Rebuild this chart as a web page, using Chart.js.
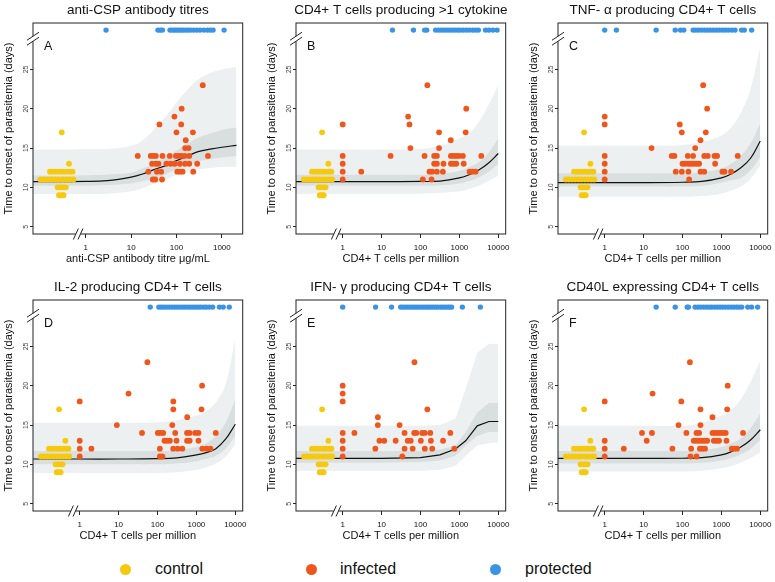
<!DOCTYPE html>
<html>
<head>
<meta charset="utf-8">
<script src="https://cdn.jsdelivr.net/npm/chart.js@4.4.1/dist/chart.umd.min.js"></script>
<style>
  html, body { margin: 0; padding: 0; background: #fff; overflow: hidden; }
  body { width: 775px; height: 582px; position: relative; font-family: "Liberation Sans", Arial, sans-serif; }
  canvas { position: absolute; }
  .key { position: absolute; top: 558px; font-size: 16px; line-height: 22px; color: #111; }
  .dot { position: absolute; top: 564px; width: 11px; height: 11px; border-radius: 50%; }
</style>
</head>
<body>
<canvas id="pA" width="256" height="274"></canvas>
<canvas id="pB" width="256" height="274"></canvas>
<canvas id="pC" width="256" height="274"></canvas>
<canvas id="pD" width="256" height="274"></canvas>
<canvas id="pE" width="256" height="274"></canvas>
<canvas id="pF" width="256" height="274"></canvas>

<div class="dot" style="left:120px;background:#f7c90c"></div><div class="key" style="left:155px">control</div>
<div class="dot" style="left:306px;background:#f0561c"></div><div class="key" style="left:340px">infected</div>
<div class="dot" style="left:490px;background:#3a94e6"></div><div class="key" style="left:525px">protected</div>

<script>
// ---- data ----
var yTicks = [5, 10, 15, 20, 25];
var xTicksCSP = [1, 10, 100, 1000];
var xTicksCD4 = [1, 10, 100, 1000, 10000];

// controls (no measurement, plotted left of the axis break)
var ctrlX = [0.100, 0.120, 0.145, 0.174, 0.209, 0.251, 0.309, 0.372, 0.447, 0.537,
             0.162, 0.191, 0.224, 0.269, 0.316, 0.372, 0.447, 0.513,
             0.240, 0.275, 0.316, 0.363,
             0.257, 0.295, 0.324,
             0.427,
             0.295];
var ctrlY = [11, 11, 11, 11, 11, 11, 11, 11, 11, 11,
             12, 12, 12, 12, 12, 12, 12, 12,
             10, 10, 10, 10,
             9, 9, 9,
             13,
             17];

// protected volunteers (never parasitemic, drawn in the top strip)
var protectedDay = 30;
var protA = [2.8, 39, 44, 49, 72, 80, 90, 100, 112, 125, 140, 160, 180, 205, 240, 280, 330, 400, 480, 560, 640, 1120];
var protB = [19, 66, 128, 145, 245, 290, 340, 400, 470, 550, 650, 760, 900, 1050, 1250, 1500, 1800, 2200, 2600, 3070, 4700, 5750, 7250, 9300];
var protC = [1, 2, 21, 65, 89, 108, 188, 220, 260, 310, 370, 440, 520, 620, 740, 880, 1050, 1250, 1500, 1850, 2240, 3310, 3880, 6000];
var protD = [65, 108, 125, 145, 170, 200, 235, 275, 320, 375, 440, 510, 600, 700, 820, 960, 1120, 1300, 1550, 1800, 2150, 2620, 3900, 4900, 7000];
var protE = [1, 7, 18, 31, 35, 40, 46, 53, 61, 70, 80, 92, 106, 122, 140, 160, 185, 212, 245, 280, 325, 375, 430, 500, 560, 630, 1190, 3460];
var protF = [21, 65, 132, 142, 211, 250, 295, 350, 410, 480, 560, 660, 780, 920, 1080, 1270, 1500, 1770, 2080, 2450, 2850, 3330, 4770, 6000, 8560];

// infected volunteers
var infA_x = [380, 130, 90, 42, 127, 100, 230, 160, 155, 185,
  14, 27, 31, 35, 49, 71, 97, 111, 127, 151, 191, 494,
  29, 35, 40, 60, 74, 91, 119, 155, 191, 286,
  24, 37, 46, 104, 119, 136, 234,
  30, 34, 48];
var infA_y = [23, 20, 19, 18, 18, 17, 17, 16, 15, 15,
  14, 14, 14, 14, 14, 14, 14, 14, 14, 14, 14, 14,
  13, 13, 13, 13, 13, 13, 13, 13, 13, 13,
  12, 12, 12, 12, 12, 12, 12,
  11, 11, 11];

var infB_x = [150, 1500, 48, 1, 52, 300, 1450, 600, 55, 300,
  1, 17, 127, 225, 264, 605, 710, 830, 975, 1230, 3650,
  1, 225, 264, 390, 605, 710, 830, 1290,
  1, 3, 170, 200, 264, 376, 1830, 2140, 2610,
  1, 115, 192];
var infB_y = [23, 20, 19, 18, 18, 17, 17, 16, 15, 15,
  14, 14, 14, 14, 14, 14, 14, 14, 14, 14, 14,
  13, 13, 13, 13, 13, 13, 13, 13,
  12, 12, 12, 12, 12, 12, 12, 12, 12,
  11, 11, 11];

var infC_x = [340, 430, 1, 1, 85, 96, 397, 290, 16, 212,
  1, 53, 62, 137, 187, 363, 445, 665, 775, 2630,
  1, 100, 117, 142, 166, 195, 229, 268, 690,
  1, 67, 96, 142, 290, 363, 1060, 1200, 1770,
  1, 148];
var infC_y = [23, 20, 19, 18, 18, 17, 17, 16, 15, 15,
  14, 14, 14, 14, 14, 14, 14, 14, 14, 14,
  13, 13, 13, 13, 13, 13, 13, 13, 13,
  12, 12, 12, 12, 12, 12, 12, 12, 12,
  11, 11];

var infD_x = [55, 1400, 18, 1, 255, 255, 1350, 580, 9, 240,
  40, 102, 120, 140, 285, 575, 670, 930, 1130, 3150,
  1, 151, 177, 208, 308, 575, 670, 1130,
  1, 2, 115, 253, 330, 435, 1420, 1810, 2290,
  1, 115, 134];
var infD_y = [23, 20, 19, 18, 18, 17, 17, 16, 15, 15,
  14, 14, 14, 14, 14, 14, 14, 14, 14, 14,
  13, 13, 13, 13, 13, 13, 13, 13,
  12, 12, 12, 12, 12, 12, 12, 12, 12,
  11, 11, 11];

var infE_x = [70, 1, 1, 1, 150, 8, 8, 29,
  1, 2, 39, 69, 78, 110, 129, 178, 585,
  1, 8.8, 11.7, 23, 47, 56, 102, 185, 380,
  1, 6.9, 39, 63, 129, 200, 740,
  1, 34];
var infE_y = [23, 20, 19, 18, 17, 16, 15, 15,
  14, 14, 14, 14, 14, 14, 14, 14, 14,
  13, 13, 13, 13, 13, 13, 13, 13, 13,
  12, 12, 12, 12, 12, 12, 12,
  11, 11];

var infF_x = [155, 1450, 17, 1, 93, 290, 1410, 590, 79, 290,
  9.1, 16.4, 126, 229, 268, 590, 690, 810, 940, 1100, 1290, 3600,
  1, 12, 195, 229, 268, 315, 365, 430, 640, 745, 870, 1350,
  1, 3.1, 55, 167, 280, 325, 380, 1850, 2150, 2520,
  1, 160, 229];
var infF_y = [23, 20, 19, 18, 18, 17, 17, 16, 15, 15,
  14, 14, 14, 14, 14, 14, 14, 14, 14, 14, 14, 14,
  13, 13, 13, 13, 13, 13, 13, 13, 13, 13, 13, 13,
  12, 12, 12, 12, 12, 12, 12, 12, 12, 12,
  11, 11, 11];

// fitted model: mean line, inner and outer intervals
var bandX_A = [0.0687, 1, 3, 10, 18, 30, 60, 100, 180, 300, 600, 1000, 2100];
var fitA    = [10.72, 10.75, 10.85, 11.3, 11.7, 12.2, 12.8, 13.4, 14.0, 14.55, 14.9, 15.1, 15.35];
var outHiA  = [14.8, 14.85, 14.9, 15.3, 16.0, 17.2, 19.1, 20.8, 22.5, 23.7, 24.6, 25.0, 25.3];
var outLoA  = [9.15, 9.15, 9.2, 9.5, 9.9, 10.4, 11.0, 11.6, 12.0, 12.3, 12.5, 12.6, 12.6];
var inHiA   = [11.5, 11.55, 11.65, 11.9, 12.4, 13.0, 13.9, 14.7, 15.6, 16.3, 16.9, 17.3, 17.6];
var inLoA   = [10.2, 10.2, 10.3, 10.5, 10.8, 11.1, 11.7, 12.3, 12.8, 13.3, 13.6, 13.8, 14.0];

var bandX_T = [0.063, 1, 10, 100, 316, 1000, 1780, 3160, 5620, 10000];
var fitB   = [10.72, 10.72, 10.72, 10.75, 10.8, 11.2, 11.6, 12.2, 13.1, 14.3];
var outHiB = [14.8, 14.8, 14.8, 14.9, 15.3, 16.2, 16.9, 18.3, 20.5, 23.0];
var outLoB = [9.2, 9.2, 9.2, 9.2, 9.3, 9.5, 9.8, 10.2, 10.8, 11.5];
var inHiB  = [11.6, 11.6, 11.6, 11.6, 11.7, 12.1, 12.6, 13.2, 14.4, 16.2];
var inLoB  = [10.2, 10.2, 10.2, 10.2, 10.25, 10.5, 10.8, 11.3, 12.0, 13.0];

var fitC   = [10.6, 10.6, 10.6, 10.65, 10.75, 11.2, 11.7, 12.5, 13.7, 15.9];
var outHiC = [15.3, 15.3, 15.3, 15.4, 15.8, 16.6, 17.6, 19.5, 22.5, 28.0];
var outLoC = [8.8, 8.8, 8.8, 8.8, 8.9, 9.2, 9.6, 10.1, 11.1, 12.8];
var inHiC  = [11.8, 11.8, 11.8, 11.8, 11.9, 12.4, 13.0, 14.0, 15.6, 18.2];
var inLoC  = [10.1, 10.1, 10.1, 10.1, 10.2, 10.6, 10.9, 11.2, 12.2, 13.9];

var fitD   = [10.68, 10.68, 10.68, 10.72, 10.82, 11.2, 11.5, 12.0, 13.2, 15.1];
var outHiD = [15.3, 15.3, 15.3, 15.35, 15.6, 16.2, 16.8, 17.9, 20.2, 25.9];
var outLoD = [8.9, 8.9, 8.9, 8.9, 9.0, 9.3, 9.6, 10.1, 11.0, 12.6];
var inHiD  = [11.7, 11.7, 11.7, 11.7, 11.8, 12.2, 12.7, 13.6, 15.3, 18.3];
var inLoD  = [10.0, 10.0, 10.0, 10.0, 10.1, 10.4, 10.7, 11.1, 12.0, 13.6];

var bandX_E = [0.063, 1, 10, 100, 316, 794, 1450, 2880, 5750, 10000];
var fitE   = [10.76, 10.76, 10.76, 10.85, 11.2, 11.95, 13.0, 14.9, 15.45, 15.45];
var outHiE = [14.9, 14.9, 14.9, 14.9, 15.0, 15.8, 19.6, 24.2, 25.3, 25.3];
var outLoE = [9.2, 9.2, 9.2, 9.2, 9.3, 9.8, 11.1, 12.4, 12.7, 12.8];
var inHiE  = [11.7, 11.7, 11.7, 11.7, 11.85, 12.4, 14.1, 16.6, 17.8, 17.8];
var inLoE  = [10.2, 10.2, 10.2, 10.3, 10.5, 11.1, 12.4, 13.6, 14.1, 14.1];

var fitF   = [10.76, 10.76, 10.76, 10.78, 10.85, 11.2, 11.6, 12.2, 13.1, 14.4];
var outHiF = [14.9, 14.9, 14.9, 14.9, 15.3, 16.2, 16.9, 18.3, 20.5, 23.2];
var outLoF = [9.1, 9.1, 9.1, 9.1, 9.2, 9.5, 9.8, 10.2, 10.8, 11.5];
var inHiF  = [11.7, 11.7, 11.7, 11.7, 11.8, 12.2, 12.7, 13.3, 14.6, 16.5];
var inLoF  = [10.1, 10.1, 10.1, 10.1, 10.2, 10.5, 10.8, 11.3, 12.0, 13.1];

var cd4Title = 'CD4+ T cells per million';
var panels = [
  {id: 'pA', letter: 'A', title: 'anti-CSP antibody titres', xTitle: 'anti-CSP antibody titre \u03bcg/mL', xTicks: xTicksCSP, xMin: 0.0687, xMax: 2880,
   infX: infA_x, infY: infA_y, prot: protA, bx: bandX_A, fit: fitA, oHi: outHiA, oLo: outLoA, iHi: inHiA, iLo: inLoA},
  {id: 'pB', letter: 'B', title: 'CD4+ T cells producing >1 cytokine', xTitle: cd4Title, xTicks: xTicksCD4, xMin: 0.063, xMax: 15500,
   infX: infB_x, infY: infB_y, prot: protB, bx: bandX_T, fit: fitB, oHi: outHiB, oLo: outLoB, iHi: inHiB, iLo: inLoB},
  {id: 'pC', letter: 'C', title: 'TNF- \u03b1 producing CD4+ T cells', xTitle: cd4Title, xTicks: xTicksCD4, xMin: 0.063, xMax: 15500,
   infX: infC_x, infY: infC_y, prot: protC, bx: bandX_T, fit: fitC, oHi: outHiC, oLo: outLoC, iHi: inHiC, iLo: inLoC},
  {id: 'pD', letter: 'D', title: 'IL-2 producing CD4+ T cells', xTitle: cd4Title, xTicks: xTicksCD4, xMin: 0.063, xMax: 15500,
   infX: infD_x, infY: infD_y, prot: protD, bx: bandX_T, fit: fitD, oHi: outHiD, oLo: outLoD, iHi: inHiD, iLo: inLoD},
  {id: 'pE', letter: 'E', title: 'IFN- \u03b3 producing CD4+ T cells', xTitle: cd4Title, xTicks: xTicksCD4, xMin: 0.063, xMax: 15500,
   infX: infE_x, infY: infE_y, prot: protE, bx: bandX_E, fit: fitE, oHi: outHiE, oLo: outLoE, iHi: inHiE, iLo: inLoE, straight: true},
  {id: 'pF', letter: 'F', title: 'CD40L expressing CD4+ T cells', xTitle: cd4Title, xTicks: xTicksCD4, xMin: 0.063, xMax: 15500,
   infX: infF_x, infY: infF_y, prot: protF, bx: bandX_T, fit: fitF, oHi: outHiF, oLo: outLoF, iHi: inHiF, iLo: inLoF}
];

// ---- drawing ----
var boxLeft = [33.3, 295.7, 558.3];
var rowTop = [0, 277];
var yAxisW = 36;

Chart.defaults.font.family = '"Liberation Sans", Arial, sans-serif';
Chart.defaults.color = '#111';

function pts(xs, ys) {
  return xs.map(function(x, i) { return {x: x, y: ys[i]}; });
}

// box, rotated y labels, axis breaks, title and panel letter
var panelDecor = {
  id: 'panelDecor',
  afterDraw: function(chart, args, o) {
    var ctx = chart.ctx, a = chart.chartArea, x = chart.scales.x, y = chart.scales.y;
    ctx.save();
    ctx.strokeStyle = '#222';
    ctx.lineWidth = 1;
    ctx.strokeRect(a.left, a.top, a.right - a.left, a.bottom - a.top);

    ctx.fillStyle = '#444';
    ctx.font = '7px "Liberation Sans", Arial, sans-serif';
    ctx.textAlign = 'center';
    ctx.textBaseline = 'middle';
    yTicks.forEach(function(v) {
      ctx.save();
      ctx.translate(a.left - 7, y.getPixelForValue(v));
      ctx.rotate(-Math.PI / 2);
      ctx.fillText(String(v), 0, 0);
      ctx.restore();
    });

    // y break
    var py = y.getPixelForValue(28.9);
    ctx.fillStyle = '#fff';
    ctx.fillRect(a.left - 1.5, py - 2.5, 3, 5);
    ctx.beginPath();
    [-2.5, 2.5].forEach(function(k) {
      ctx.moveTo(a.left - 6, py + k + 4);
      ctx.lineTo(a.left + 6, py + k - 4);
    });
    // x break
    var bx = x.getPixelForValue(0.68), b = a.bottom;
    ctx.fillRect(bx - 2.3, b - 1.5, 4.6, 3);
    [-2.3, 2.3].forEach(function(k) {
      ctx.moveTo(bx + k - 2.5, b + 5.5);
      ctx.lineTo(bx + k + 2.5, b - 5.5);
    });
    ctx.stroke();

    ctx.fillStyle = '#111';
    ctx.font = '13.5px "Liberation Sans", Arial, sans-serif';
    ctx.textAlign = 'center';
    ctx.fillText(o.title, (a.left + a.right) / 2, a.top - 13);
    ctx.font = '12.5px "Liberation Sans", Arial, sans-serif';
    ctx.textAlign = 'left';
    ctx.fillText(o.letter, a.left + 11, a.top + 24);
    ctx.restore();
  }
};

panels.forEach(function(p, idx) {
  var col = idx % 3, row = Math.floor(idx / 3);
  var cv = document.getElementById(p.id);
  cv.style.left = (boxLeft[col] - yAxisW) + 'px';
  cv.style.top = rowTop[row] + 'px';
  var tension = p.straight ? 0 : 0.4;
  var band = {type: 'line', showLine: true, borderWidth: 0, pointRadius: 0, tension: tension};

  new Chart(cv, {
    type: 'scatter',
    data: {
      datasets: [
        Object.assign({}, band, {data: pts(p.bx, p.oLo), fill: false, order: 5}),
        Object.assign({}, band, {data: pts(p.bx, p.oHi), fill: 0, backgroundColor: '#edf0f0', order: 5}),
        Object.assign({}, band, {data: pts(p.bx, p.iLo), fill: false, order: 4}),
        Object.assign({}, band, {data: pts(p.bx, p.iHi), fill: 2, backgroundColor: '#d9dfdf', order: 4}),
        Object.assign({}, band, {data: pts(p.bx, p.fit), fill: false, borderWidth: 1.2, borderColor: '#111', order: 3}),
        {data: pts(ctrlX, ctrlY), pointRadius: 2.9, backgroundColor: '#f7c90c', borderWidth: 0, order: 2},
        {data: pts(p.infX, p.infY), pointRadius: 2.9, backgroundColor: '#f0561c', borderWidth: 0, order: 1},
        {data: p.prot.map(function(v) { return {x: v, y: protectedDay}; }), pointRadius: 2.7, backgroundColor: '#3a94e6', borderWidth: 0, order: 0}
      ]
    },
    options: {
      responsive: false,
      animation: false,
      events: [],
      layout: {padding: {top: 23, right: 256 - yAxisW - 209.7, bottom: 0, left: 0}},
      plugins: {
        legend: {display: false},
        tooltip: {enabled: false},
        panelDecor: {title: p.title, letter: p.letter}
      },
      scales: {
        x: {
          type: 'logarithmic', min: p.xMin, max: p.xMax, bounds: 'data',
          afterBuildTicks: function(s) { s.ticks = p.xTicks.map(function(v) { return {value: v}; }); },
          afterFit: function(s) { s.height = 40; s.paddingLeft = 0; s.paddingRight = 0; },
          grid: {drawOnChartArea: false, drawTicks: true, tickLength: 4, color: '#222'},
          border: {display: false},
          ticks: {font: {size: 8}, padding: 5, maxRotation: 0, autoSkip: false,
                  callback: function(v) { return String(v); }},
          title: {display: true, text: p.xTitle, font: {size: 11}, padding: {top: 0, bottom: 8}}
        },
        y: {
          type: 'linear', min: 4.07, max: 30.9,
          afterBuildTicks: function(s) { s.ticks = yTicks.map(function(v) { return {value: v}; }); },
          afterFit: function(s) { s.width = yAxisW; s.paddingTop = 0; s.paddingBottom = 0; },
          grid: {drawOnChartArea: false, drawTicks: true, tickLength: 3, color: '#222'},
          border: {display: false},
          ticks: {display: false},
          title: {display: true, text: 'Time to onset of parasitemia (days)', font: {size: 11}, padding: {top: 5, bottom: 0}}
        }
      }
    },
    plugins: [panelDecor]
  });
});
</script>
</body>
</html>
